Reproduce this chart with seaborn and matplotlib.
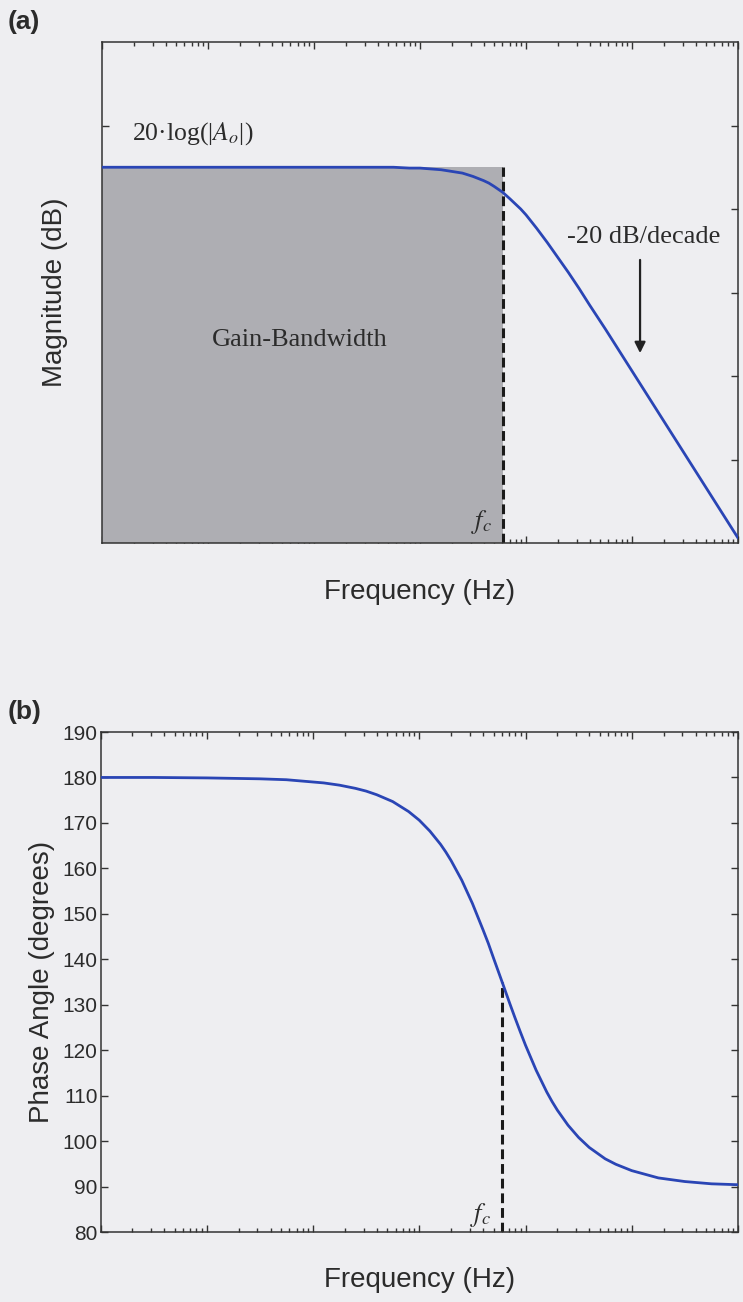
import numpy as np
import pandas as pd
import matplotlib
matplotlib.use("Agg")
import matplotlib.pyplot as plt
import seaborn as sns
from matplotlib.ticker import LogLocator, NullFormatter, FixedLocator

# ---- data ----
freq_hz = [1, 3.16, 10, 31.6, 56.2, 100, 126, 178, 251, 316, 398, 562, 794, 1000,
           1259, 1585, 1778, 1995, 2512, 3162, 3981, 4467, 5012, 6026, 7079, 7943,
           8913, 10000, 12589, 15849, 17783, 19953, 25119, 31623, 39811, 56234,
           70795, 100000, 177828, 316228, 562341, 1000000]
mag_db = [45.0, 45.0, 45.0, 45.0, 45.0, 45.0, 45.0, 45.0, 45.0, 45.0, 45.0, 45.0,
          44.9, 44.9, 44.8, 44.7, 44.6, 44.5, 44.3, 43.9, 43.4, 43.1, 42.7, 42.0,
          41.2, 40.6, 40.0, 39.3, 37.7, 36.0, 35.1, 34.2, 32.4, 30.5, 28.5, 25.6,
          23.6, 20.6, 15.6, 10.6, 5.6, 0.6]
phase_deg = [180.0, 180.0, 179.9, 179.7, 179.5, 179.0, 178.8, 178.3, 177.6, 177.0,
             176.2, 174.7, 172.5, 170.6, 168.2, 165.3, 163.6, 161.7, 157.4, 152.3,
             146.5, 143.5, 140.2, 135.0, 130.4, 127.2, 124.1, 121.1, 115.6, 110.8,
             108.7, 106.8, 103.5, 100.8, 98.6, 96.1, 94.9, 93.5, 91.9, 91.1, 90.6,
             90.4]
fc_hz = 6026
ao_db = 45.0
phase_at_fc = 135.0
mag_ticks = [10, 20, 30, 40, 50]
phase_ticks = [80, 90, 100, 110, 120, 130, 140, 150, 160, 170, 180, 190]

df = pd.DataFrame({"f": freq_hz, "mag": mag_db, "phase": phase_deg})

sns.set_theme(style="ticks")
bg = "#eeeef1"
ink = "#2b2b2b"
blue = "#2a45b5"
plt.rcParams["font.family"] = ["Liberation Sans", "DejaVu Sans"]
plt.rcParams["mathtext.fontset"] = "stix"
plt.rcParams["axes.edgecolor"] = "#333333"
plt.rcParams["axes.linewidth"] = 1.1

fig = plt.figure(figsize=(7.43, 13.02), dpi=100, facecolor=bg)
ax1 = fig.add_axes([102 / 743, 1 - 543 / 1302, 636 / 743, 501 / 1302])
ax2 = fig.add_axes([100.5 / 743, 1 - 1232 / 1302, 637.5 / 743, 500 / 1302])

serif = ["Liberation Serif", "DejaVu Serif"]

for ax in (ax1, ax2):
    ax.set_facecolor(bg)
    ax.set_xscale("log")
    ax.set_xlim(freq_hz[0], freq_hz[-1])
    ax.xaxis.set_major_locator(LogLocator(base=10, numticks=20))
    ax.xaxis.set_minor_locator(LogLocator(base=10, subs=np.arange(2, 10), numticks=20))
    ax.xaxis.set_major_formatter(NullFormatter())
    ax.xaxis.set_minor_formatter(NullFormatter())
    ax.tick_params(which="both", direction="in", top=True, right=True,
                   color="#333333", width=1.0)
    ax.tick_params(which="major", length=5)
    ax.tick_params(which="minor", length=3)
    for s in ax.spines.values():
        s.set_visible(True)

# ---- (a) magnitude ----
ax1.fill_between([freq_hz[0], fc_hz], 0, ao_db, color="#aeaeb3", lw=0, zorder=1)
ax1.plot([fc_hz, fc_hz], [0, ao_db], color="#1a1a1a", lw=2.2,
         dashes=(3.2, 1.6), zorder=2)
sns.lineplot(data=df, x="f", y="mag", ax=ax1, color=blue, lw=2.0, zorder=3)
ax1.set_ylim(0, 60)
ax1.yaxis.set_major_locator(FixedLocator(mag_ticks))
ax1.set_yticklabels([])
ax1.set_ylabel("Magnitude (dB)", fontsize=20, color=ink, va="center")
ax1.yaxis.set_label_coords(-0.074, 0.5)
ax1.set_xlabel("Frequency (Hz)", fontsize=20, color=ink, va="center")
ax1.xaxis.set_label_coords(0.5, -0.098)

ax1.text(0.047, 0.818, "20·log(|$A_o$|)", transform=ax1.transAxes,
         fontsize=18.5, family=serif, color=ink, ha="left", va="center")
ax1.text(0.311, 0.405, "Gain-Bandwidth", transform=ax1.transAxes,
         fontsize=19, family=serif, color=ink, ha="center", va="center")
ax1.text(0.851, 0.611, "-20 dB/decade", transform=ax1.transAxes,
         fontsize=19, family=serif, color=ink, ha="center", va="center")
ax1.annotate("", xy=(0.846, 0.379), xytext=(0.846, 0.565),
             xycoords="axes fraction", textcoords="axes fraction",
             arrowprops=dict(arrowstyle="-|>", color="#222222", lw=1.6,
                             mutation_scale=16, shrinkA=0, shrinkB=0))
ax1.annotate("$f_c$", xy=(fc_hz, 0), xytext=(-8, 15), textcoords="offset points",
             fontsize=19, color=ink, ha="right", va="center")

# ---- (b) phase ----
ax2.plot([fc_hz, fc_hz], [80, phase_at_fc], color="#1a1a1a", lw=2.2,
         dashes=(3.2, 1.6), zorder=2)
sns.lineplot(data=df, x="f", y="phase", ax=ax2, color=blue, lw=2.0, zorder=3)
ax2.set_ylim(80, 190)
ax2.yaxis.set_major_locator(FixedLocator(phase_ticks))
ax2.set_yticklabels([str(t) for t in phase_ticks])
ax2.tick_params(axis="y", labelsize=15, labelcolor=ink, pad=2)
ax2.set_ylabel("Phase Angle (degrees)", fontsize=20, color=ink, va="center")
ax2.yaxis.set_label_coords(-0.092, 0.5)
ax2.set_xlabel("Frequency (Hz)", fontsize=20, color=ink, va="center")
ax2.xaxis.set_label_coords(0.5, -0.096)
ax2.annotate("$f_c$", xy=(fc_hz, 80), xytext=(-8, 12), textcoords="offset points",
             fontsize=19, color=ink, ha="right", va="center")

fig.text(8 / 743, 1 - 22 / 1302, "(a)", fontsize=19, fontweight="bold",
         color=ink, ha="left", va="center")
fig.text(8 / 743, 1 - 712 / 1302, "(b)", fontsize=19, fontweight="bold",
         color=ink, ha="left", va="center")

fig.savefig("out.png", dpi=100, facecolor=bg)
